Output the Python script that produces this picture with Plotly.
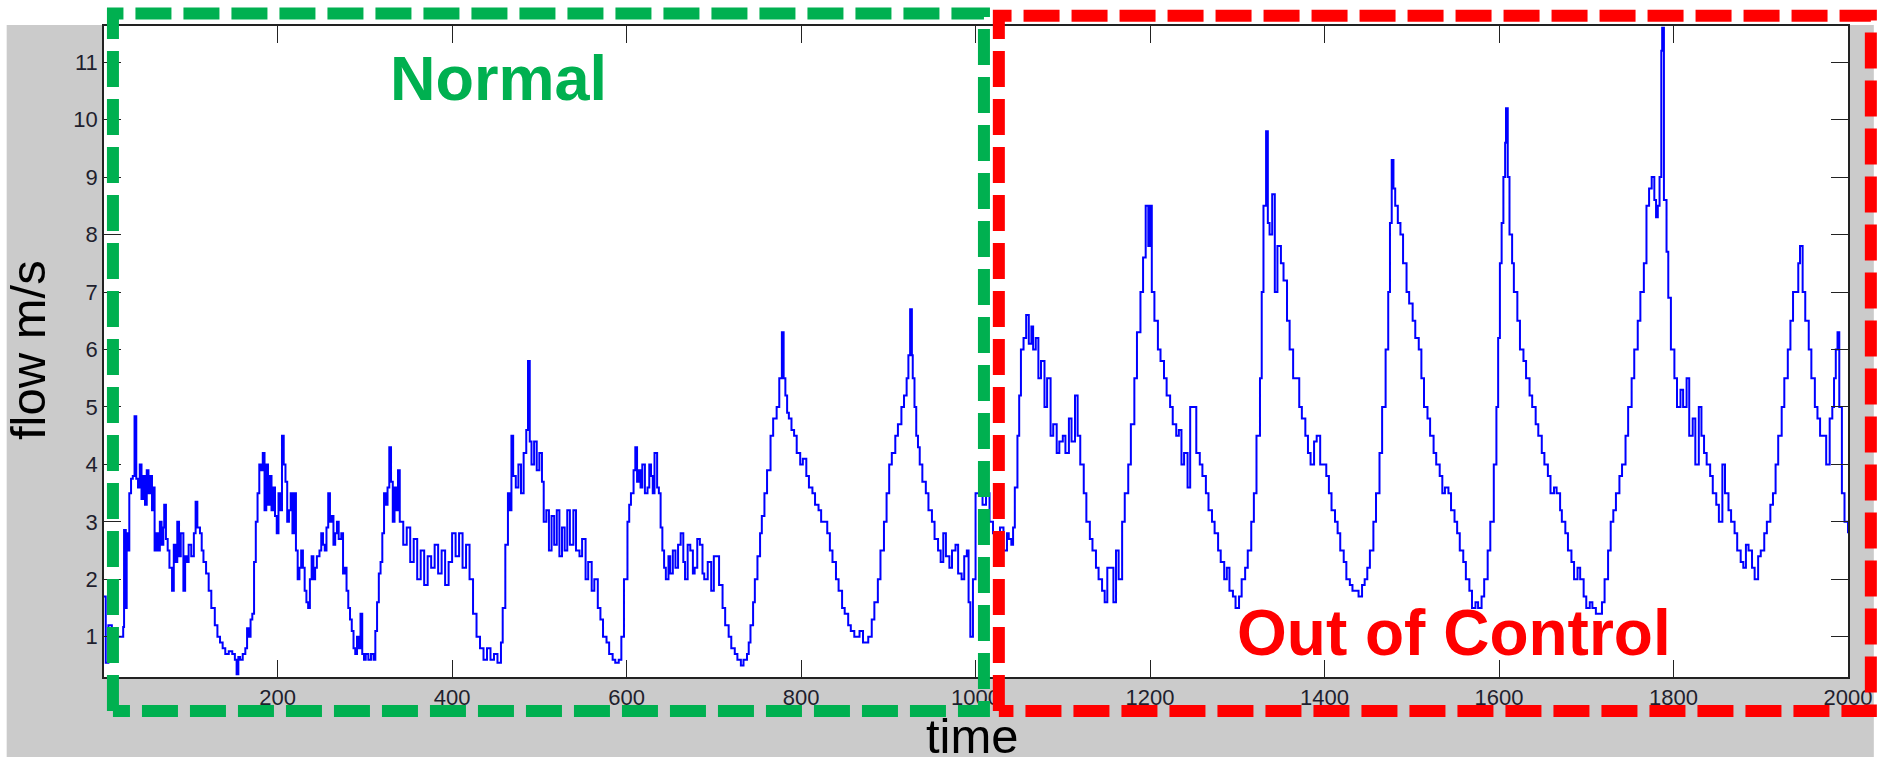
import plotly.graph_objects as go

# sampled flow readings (time index, flow in m/s)
time_pts = [
    1, 3, 6, 10, 14, 19, 23, 24, 26, 27, 28, 30, 32, 34, 36, 38, 40, 42, 44, 46,
    48, 50, 52, 54, 56, 58, 59, 61, 63, 65, 67, 69, 70, 72, 74, 76, 79, 81, 83, 85,
    87, 89, 92, 94, 96, 98, 101, 104, 106, 108, 111, 113, 115, 118, 121, 124, 128, 131, 134, 137,
    140, 144, 148, 151, 153, 155, 157, 160, 163, 165, 167, 169, 171, 173, 175, 177, 179, 181, 183, 185,
    187, 189, 191, 193, 195, 197, 199, 201, 203, 205, 207, 209, 211, 213, 215, 217, 219, 221, 223, 225,
    227, 229, 231, 233, 235, 237, 239, 241, 243, 245, 248, 250, 252, 254, 256, 258, 260, 262, 264, 266,
    268, 270, 273, 275, 277, 279, 281, 283, 285, 287, 289, 291, 293, 295, 297, 299, 301, 304, 307, 310,
    312, 314, 316, 318, 320, 322, 324, 326, 328, 330, 332, 334, 336, 338, 340, 344, 348, 352, 356, 360,
    364, 368, 372, 376, 380, 384, 388, 392, 396, 400, 404, 408, 412, 416, 420, 424, 428, 432, 436, 440,
    444, 448, 452, 456, 458, 461, 464, 466, 468, 470, 473, 476, 479, 482, 485, 487, 489, 491, 494, 497,
    500, 503, 505, 508, 511, 514, 517, 520, 523, 526, 529, 532, 535, 539, 542, 546, 549, 553, 556, 560,
    563, 567, 570, 573, 577, 580, 584, 587, 591, 594, 597, 601, 603, 605, 608, 610, 612, 614, 616, 618,
    621, 624, 626, 628, 630, 632, 635, 637, 639, 641, 643, 645, 648, 650, 653, 656, 659, 662, 665, 667,
    670, 673, 676, 678, 681, 684, 687, 689, 693, 697, 700, 703, 706, 710, 713, 717, 720, 724, 727, 731,
    734, 738, 740, 742, 745, 747, 750, 753, 755, 758, 761, 765, 768, 772, 775, 778, 780, 782, 784, 786,
    789, 792, 795, 799, 802, 806, 809, 813, 816, 820, 823, 826, 830, 833, 836, 840, 843, 847, 850, 854,
    857, 861, 864, 867, 871, 874, 877, 881, 884, 888, 891, 895, 898, 901, 904, 908, 911, 915, 918, 921,
    923, 925, 927, 928, 930, 932, 934, 936, 939, 943, 946, 950, 953, 957, 960, 963, 966, 970, 973, 977,
    980, 984, 987, 990, 992, 994, 997, 1000, 1004, 1008, 1012, 1016, 1020, 1024, 1028, 1032, 1036, 1038, 1041, 1043,
    1045, 1048, 1050, 1052, 1055, 1058, 1061, 1064, 1066, 1069, 1072, 1075, 1079, 1082, 1086, 1089, 1093, 1096, 1100, 1103,
    1107, 1110, 1114, 1117, 1120, 1124, 1127, 1131, 1134, 1138, 1141, 1145, 1148, 1151, 1154, 1158, 1161, 1164, 1168, 1171,
    1175, 1178, 1182, 1185, 1189, 1192, 1195, 1198, 1200, 1202, 1205, 1209, 1212, 1216, 1219, 1223, 1226, 1230, 1233, 1236,
    1239, 1243, 1246, 1250, 1253, 1257, 1260, 1264, 1267, 1271, 1274, 1278, 1281, 1285, 1288, 1291, 1295, 1298, 1302, 1305,
    1309, 1312, 1316, 1319, 1322, 1326, 1328, 1330, 1333, 1335, 1337, 1340, 1343, 1346, 1350, 1353, 1357, 1360, 1364, 1367,
    1371, 1374, 1378, 1381, 1384, 1388, 1391, 1395, 1398, 1402, 1405, 1408, 1412, 1415, 1418, 1422, 1425, 1429, 1432, 1436,
    1439, 1443, 1446, 1449, 1452, 1456, 1459, 1463, 1466, 1470, 1473, 1475, 1477, 1479, 1481, 1484, 1487, 1490, 1494, 1497,
    1501, 1504, 1508, 1511, 1514, 1518, 1521, 1525, 1528, 1532, 1535, 1538, 1542, 1545, 1549, 1552, 1555, 1559, 1562, 1566,
    1569, 1573, 1576, 1580, 1583, 1587, 1590, 1594, 1597, 1599, 1601, 1603, 1605, 1607, 1608, 1610, 1612, 1615, 1617, 1621,
    1624, 1628, 1631, 1635, 1638, 1642, 1645, 1649, 1652, 1656, 1659, 1663, 1666, 1670, 1672, 1676, 1679, 1683, 1686, 1690,
    1693, 1697, 1700, 1704, 1707, 1711, 1714, 1718, 1721, 1725, 1728, 1731, 1734, 1738, 1741, 1745, 1748, 1752, 1755, 1759,
    1762, 1766, 1769, 1772, 1775, 1778, 1780, 1782, 1784, 1786, 1787, 1789, 1792, 1794, 1797, 1801, 1804, 1808, 1811, 1815,
    1818, 1822, 1825, 1829, 1832, 1835, 1838, 1842, 1845, 1849, 1852, 1856, 1859, 1863, 1866, 1870, 1873, 1877, 1880, 1883,
    1886, 1890, 1893, 1897, 1900, 1904, 1907, 1911, 1914, 1917, 1920, 1924, 1927, 1931, 1934, 1937, 1941, 1943, 1945, 1948,
    1951, 1955, 1958, 1962, 1965, 1968, 1972, 1975, 1979, 1982, 1984, 1986, 1988, 1990, 1993, 1996, 2000,
]

flow_vals = [
    1.7, 0.55, 1.2, 0.6, 1.0, 1.0, 1.17, 2.86, 1.5, 2.8, 2.5, 3.5, 3.75, 3.8, 4.84, 3.75, 3.6, 4.0, 3.4, 3.8,
    3.3, 3.9, 3.5, 3.8, 3.2, 3.6, 2.5, 2.8, 2.5, 3.0, 2.6, 2.9, 3.3, 2.7, 2.5, 2.2, 1.8, 2.6, 2.3, 3.0,
    2.4, 2.8, 1.8, 2.4, 2.3, 2.6, 2.4, 2.8, 3.35, 2.9, 2.8, 2.5, 2.3, 2.1, 1.8, 1.5, 1.2, 1.0, 0.9, 0.8,
    0.7, 0.75, 0.7, 0.6, 0.35, 0.65, 0.6, 0.7, 0.8, 1.15, 1.0, 1.3, 1.4, 2.3, 3.0, 3.5, 4.0, 3.9, 4.2, 3.2,
    4.0, 3.3, 3.8, 3.2, 3.6, 3.1, 2.8, 3.5, 3.2, 4.5, 4.0, 3.7, 3.0, 3.2, 3.5, 2.8, 3.5, 2.5, 2.0, 2.2,
    2.5, 2.2, 1.8, 1.6, 1.5, 2.0, 2.4, 2.0, 2.2, 2.4, 2.5, 2.8, 2.6, 2.5, 2.9, 3.5, 3.0, 3.1, 2.6, 2.8,
    3.0, 2.7, 2.8, 2.1, 2.2, 1.8, 1.5, 1.3, 1.1, 0.8, 0.7, 1.0, 0.8, 1.4, 0.7, 0.6, 0.7, 0.6, 0.7, 0.6,
    1.1, 1.6, 2.1, 2.3, 2.8, 3.5, 3.3, 3.6, 4.3, 3.7, 3.0, 3.6, 3.2, 3.9, 3.0, 2.6, 2.9, 2.3, 2.7, 2.0,
    2.5, 1.9, 2.4, 2.2, 2.6, 2.1, 2.5, 1.9, 2.3, 2.8, 2.4, 2.8, 2.2, 2.6, 2.0, 1.4, 1.0, 0.8, 0.6, 0.8,
    0.6, 0.7, 0.55, 0.9, 1.5, 2.6, 3.5, 3.2, 4.5, 3.8, 3.6, 4.0, 3.5, 4.2, 4.6, 5.8, 4.4, 4.0, 4.4, 3.9,
    4.2, 3.7, 3.0, 3.2, 2.5, 3.1, 2.6, 3.2, 2.4, 2.9, 2.5, 3.2, 2.6, 3.2, 2.5, 2.4, 2.7, 2.0, 2.3, 1.8,
    2.0, 1.5, 1.3, 1.0, 0.9, 0.7, 0.6, 0.55, 0.6, 1.0, 2.0, 3.0, 3.3, 3.5, 3.9, 4.3, 3.7, 3.9, 3.6, 4.0,
    3.5, 3.6, 4.0, 3.8, 3.5, 4.2, 3.6, 3.5, 2.9, 2.5, 2.2, 2.0, 2.4, 2.1, 2.5, 2.2, 2.6, 2.8, 2.3, 2.0,
    2.6, 2.5, 2.1, 2.2, 2.7, 2.6, 2.1, 2.0, 2.3, 1.8, 2.4, 2.4, 1.9, 1.5, 1.2, 1.0, 0.8, 0.7, 0.6, 0.5,
    0.6, 0.7, 0.9, 1.2, 1.6, 2.0, 2.4, 2.8, 3.1, 3.5, 3.9, 4.5, 4.8, 5.0, 5.5, 6.3, 5.5, 5.2, 4.9, 4.8,
    4.6, 4.5, 4.2, 4.0, 4.1, 3.8, 3.6, 3.5, 3.3, 3.2, 3.0, 3.0, 2.8, 2.5, 2.3, 2.0, 1.8, 1.5, 1.4, 1.2,
    1.1, 1.0, 1.0, 1.1, 0.9, 0.9, 1.0, 1.3, 1.6, 2.0, 2.5, 3.0, 3.5, 4.0, 4.2, 4.5, 4.7, 5.0, 5.2, 5.5,
    5.9, 6.7, 5.9, 5.5, 5.0, 4.5, 4.3, 4.0, 3.7, 3.5, 3.2, 3.0, 2.7, 2.5, 2.3, 2.8, 2.4, 2.2, 2.5, 2.6,
    2.1, 2.0, 2.4, 2.5, 1.6, 1.0, 2.0, 3.5, 3.6, 3.3, 3.5, 3.0, 2.8, 2.6, 2.9, 2.5, 2.8, 2.7, 2.6, 2.9,
    3.6, 4.5, 5.2, 6.0, 6.2, 6.6, 6.1, 6.4, 6.0, 6.2, 5.5, 5.8, 5.0, 5.5, 4.5, 4.7, 4.2, 4.4, 4.5, 4.2,
    4.8, 4.4, 5.2, 4.5, 4.0, 3.5, 3.0, 2.7, 2.5, 2.2, 2.0, 1.8, 1.6, 2.2, 2.2, 1.6, 2.5, 2.0, 3.0, 3.5,
    4.0, 4.7, 5.5, 6.3, 7.0, 7.6, 8.5, 7.8, 8.5, 7.0, 6.5, 6.0, 5.8, 5.5, 5.2, 5.0, 4.7, 4.5, 4.6, 4.0,
    4.2, 3.6, 5.0, 5.0, 4.2, 4.0, 3.8, 3.5, 3.2, 3.0, 2.8, 2.5, 2.3, 2.0, 2.2, 1.8, 1.7, 1.5, 1.7, 2.0,
    2.2, 2.5, 3.0, 3.5, 4.5, 5.5, 7.0, 8.5, 9.8, 8.2, 8.0, 8.7, 7.0, 7.8, 7.5, 7.2, 6.5, 6.0, 5.5, 5.5,
    5.0, 4.8, 4.5, 4.2, 4.0, 4.4, 4.5, 4.0, 4.0, 3.8, 3.5, 3.2, 3.0, 2.8, 2.5, 2.3, 2.0, 1.9, 1.8, 1.8,
    1.7, 1.9, 2.0, 2.2, 2.5, 3.0, 3.5, 4.2, 5.0, 6.0, 7.0, 8.2, 9.3, 8.8, 8.5, 8.2, 8.0, 7.5, 7.0, 6.8,
    6.5, 6.2, 6.0, 5.5, 5.0, 4.8, 4.5, 4.2, 4.0, 3.8, 3.5, 3.6, 3.5, 3.2, 3.0, 2.8, 2.5, 2.3, 2.0, 1.8,
    1.5, 1.6, 1.5, 1.7, 2.0, 2.5, 3.0, 4.0, 5.0, 6.2, 7.5, 8.2, 9.0, 9.6, 10.2, 9.0, 8.0, 7.5, 7.0, 6.5,
    6.0, 5.8, 5.5, 5.2, 5.0, 4.7, 4.5, 4.2, 4.0, 3.8, 3.5, 3.6, 3.5, 3.2, 3.0, 2.8, 2.5, 2.3, 2.0, 2.2,
    2.0, 1.7, 1.5, 1.6, 1.5, 1.4, 1.4, 1.6, 2.0, 2.5, 3.0, 3.2, 3.5, 3.8, 4.0, 4.5, 5.0, 5.5, 6.0, 6.5,
    7.0, 7.5, 8.5, 8.8, 9.0, 8.6, 8.3, 8.5, 9.0, 11.2, 11.6, 8.6, 7.7, 6.9, 6.0, 5.5, 5.0, 5.3, 5.0, 5.5,
    4.5, 4.8, 4.0, 5.0, 4.5, 4.2, 4.0, 3.8, 3.5, 3.3, 3.0, 4.0, 3.5, 3.2, 3.0, 2.8, 2.5, 2.3, 2.2, 2.6,
    2.5, 2.2, 2.0, 2.4, 2.5, 2.8, 3.0, 3.3, 3.5, 4.0, 4.5, 5.0, 5.5, 6.0, 6.5, 7.0, 7.0, 7.5, 7.8, 7.0,
    6.5, 6.0, 5.5, 5.0, 4.8, 4.5, 4.5, 4.0, 4.8, 5.0, 5.5, 6.0, 6.3, 5.0, 3.5, 3.0, 2.8,
]

x_ticks = [200, 400, 600, 800, 1000, 1200, 1400, 1600, 1800, 2000]
y_ticks = [1, 2, 3, 4, 5, 6, 7, 8, 9, 10, 11]

# figure geometry in pixels
W, H = 1884, 764
L, R, T, B = 104, 1860, 26, 677


def px(x):
    return (x - L) / (R - L)


def py(y):
    return (B - y) / (B - T)


def rect_path(x0, y0, x1, y1):
    # start at the lower-left corner, go up, across the top, down, and back
    pts = [(x0, y1), (x0, y0), (x1, y0), (x1, y1), (x0, y1)]
    return "M " + " L ".join(f"{px(a):.5f},{py(b):.5f}" for a, b in pts)


fig = go.Figure()
fig.add_trace(go.Scatter(
    x=time_pts, y=flow_vals, mode="lines",
    line=dict(color="#0000FF", width=2, shape="hv"),
    showlegend=False, hoverinfo="skip",
))

tick_font = dict(family="Liberation Sans, Arial, sans-serif", size=22, color="#1f1f2e")
axis_common = dict(
    showgrid=False, zeroline=False, showline=True, linecolor="#222222", linewidth=1.5,
    mirror="ticks", ticks="inside", ticklen=17, tickwidth=1.3, tickcolor="#222222",
    tickfont=tick_font, ticklabeloverflow="allow",
)

shapes = [
    # grey figure window
    dict(type="rect", xref="paper", yref="paper", layer="below",
         x0=px(6), x1=px(W + 2), y0=py(25), y1=py(757),
         fillcolor="#CBCBCB", line=dict(width=0)),
    # white axes area
    dict(type="rect", xref="paper", yref="paper", layer="below",
         x0=0, x1=1, y0=0, y1=1, fillcolor="white", line=dict(width=0)),
    # dashed frames around the two regimes
    dict(type="path", xref="paper", yref="paper", layer="above",
         path=rect_path(113, 13.5, 990, 711),
         line=dict(color="#00B050", width=12, dash="36px,12px")),
    dict(type="path", xref="paper", yref="paper", layer="above",
         path=rect_path(1005, 15.7, 1883, 711),
         line=dict(color="#FF0000", width=12, dash="36px,12px")),
]

label_font = dict(family="Liberation Sans, Arial, sans-serif", size=49, color="#000000")
annotations = [
    dict(text="Normal", x=px(501), y=py(78), xref="paper", yref="paper",
         showarrow=False, xanchor="center", yanchor="middle",
         font=dict(family="Liberation Sans, Arial, sans-serif", size=63,
                   color="#00B050", weight="bold")),
    dict(text="Out of Control", x=px(1463), y=py(633), xref="paper", yref="paper",
         showarrow=False, xanchor="center", yanchor="middle",
         font=dict(family="Liberation Sans, Arial, sans-serif", size=64,
                   color="#FF0000", weight="bold")),
    dict(text="time", x=px(978), y=py(736), xref="paper", yref="paper",
         showarrow=False, xanchor="center", yanchor="middle", font=label_font),
    dict(text="flow m/s", x=px(27.5), y=py(350), xref="paper", yref="paper",
         showarrow=False, xanchor="center", yanchor="middle", textangle=-90,
         font=label_font),
]

fig.update_layout(
    width=W, height=H,
    margin=dict(l=L, r=W - R, t=T, b=H - B, pad=0),
    paper_bgcolor="white", plot_bgcolor="white",
    xaxis=dict(range=[1, 2000], tickvals=x_ticks, **axis_common),
    yaxis=dict(range=[0.3, 11.63], tickvals=y_ticks, **axis_common),
    shapes=shapes, annotations=annotations,
)

fig.write_html("out.html")
